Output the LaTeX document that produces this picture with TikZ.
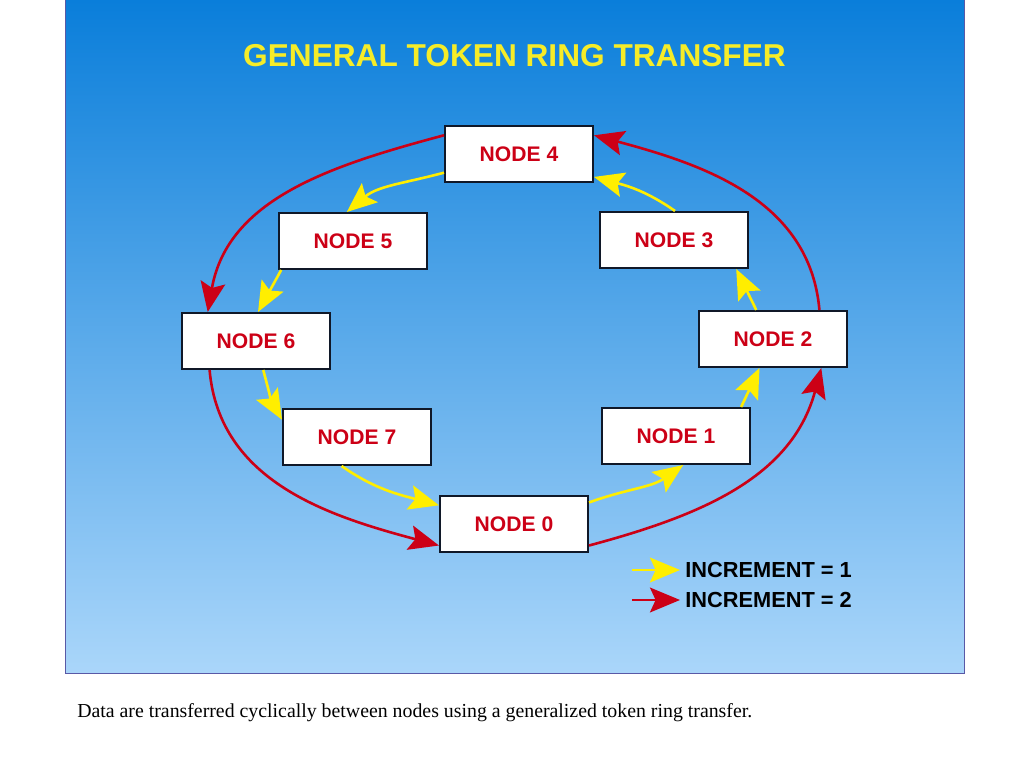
\documentclass[tikz,border=0pt]{standalone}
\usepackage{fontspec}
\setmainfont{Liberation Serif}
\setsansfont{Liberation Sans}
\usetikzlibrary{arrows.meta}
\definecolor{skytop}{RGB}{10,126,218}
\definecolor{skymid}{RGB}{116,182,240}
\definecolor{skybot}{RGB}{170,214,250}
\definecolor{ringred}{RGB}{204,0,22}
\definecolor{ringyellow}{RGB}{255,238,0}
\definecolor{titleyellow}{RGB}{246,236,40}
\definecolor{boxline}{RGB}{16,24,40}

\begin{document}
\begin{tikzpicture}[x=0.025cm, y=0.025cm,
  ringnode/.style={draw=boxline, line width=0.5mm, fill=white, minimum width=3.7cm, minimum height=1.4cm, inner sep=0pt, text=ringred, font=\sffamily\bfseries\fontsize{15}{18}\selectfont},
  inc one/.style={draw=ringyellow, line width=0.65mm, -{Stealth[length=7.5mm, width=6.2mm, inset=1.4mm]}},
  inc two/.style={draw=ringred, line width=0.65mm, -{Stealth[length=7.5mm, width=6.2mm, inset=1.4mm]}},
  legend/.style={anchor=west, inner xsep=1.25mm, inner ysep=0pt, font=\sffamily\bfseries\fontsize{15.5}{18}\selectfont}]
\useasboundingbox (0,0) rectangle (1024,768);
\shade[top color=skytop, middle color=skymid, bottom color=skybot] (65,95) rectangle (964,768);
\draw[gray!70!blue, line width=0.2mm] (65,768) -- (65,95) -- (964,95) -- (964,768);
\node (title) [anchor=base, text=titleyellow, font=\sffamily\bfseries\fontsize{22.5}{27}\selectfont] at (514.5,701) {GENERAL TOKEN RING TRANSFER};
\node (n0) [ringnode] at (514,244) {NODE 0};
\node (n1) [ringnode] at (676,332) {NODE 1};
\node (n2) [ringnode] at (773,429) {NODE 2};
\node (n3) [ringnode] at (674,528) {NODE 3};
\node (n4) [ringnode] at (519,614) {NODE 4};
\node (n5) [ringnode] at (353,527) {NODE 5};
\node (n6) [ringnode] at (256,427) {NODE 6};
\node (n7) [ringnode] at (357,331) {NODE 7};
\draw[inc one] (n0.16) to[out=20, in=215] (n1.-76);
\draw[inc one] (n1.24) -- (n2.-115);
\draw[inc one] (n2.120) -- (n3.-25);
\draw[inc one] (n3.88) to[out=145, in=-15] (n4.-17);
\draw[inc one] (n4.-166) to[out=195, in=40] (n5.102);
\draw[inc one] (n5.-158) -- (n6.86);
\draw[inc one] (n6.-76) to[out=-75, in=120] (n7.167);
\draw[inc one] (n7.-118) to[out=-35, in=165] (n0.166);
\draw[inc two] (n0.-16) to[out=15, in=-105] (n2.-31);
\draw[inc two] (n2.32) to[out=95, in=-15] (n4.14);
\draw[inc two] (n4.166) to[out=195, in=80] (n6.149);
\draw[inc two] (n6.-148) to[out=-85, in=165] (n0.-164);
\node (leg1) [legend] at (680,198) {INCREMENT = 1};
\node (leg2) [legend] at (680,168) {INCREMENT = 2};
\coordinate (leg1a) at (632,198);
\coordinate (leg2a) at (632,168);
\draw[inc one] (leg1a) -- (leg1.west);
\draw[inc two] (leg2a) -- (leg2.west);
\node (caption) [anchor=base west, inner sep=0pt, font=\fontsize{14.1}{17}\selectfont] at (77,50) {Data are transferred cyclically between nodes using a generalized token ring transfer.};
\end{tikzpicture}
\end{document}
